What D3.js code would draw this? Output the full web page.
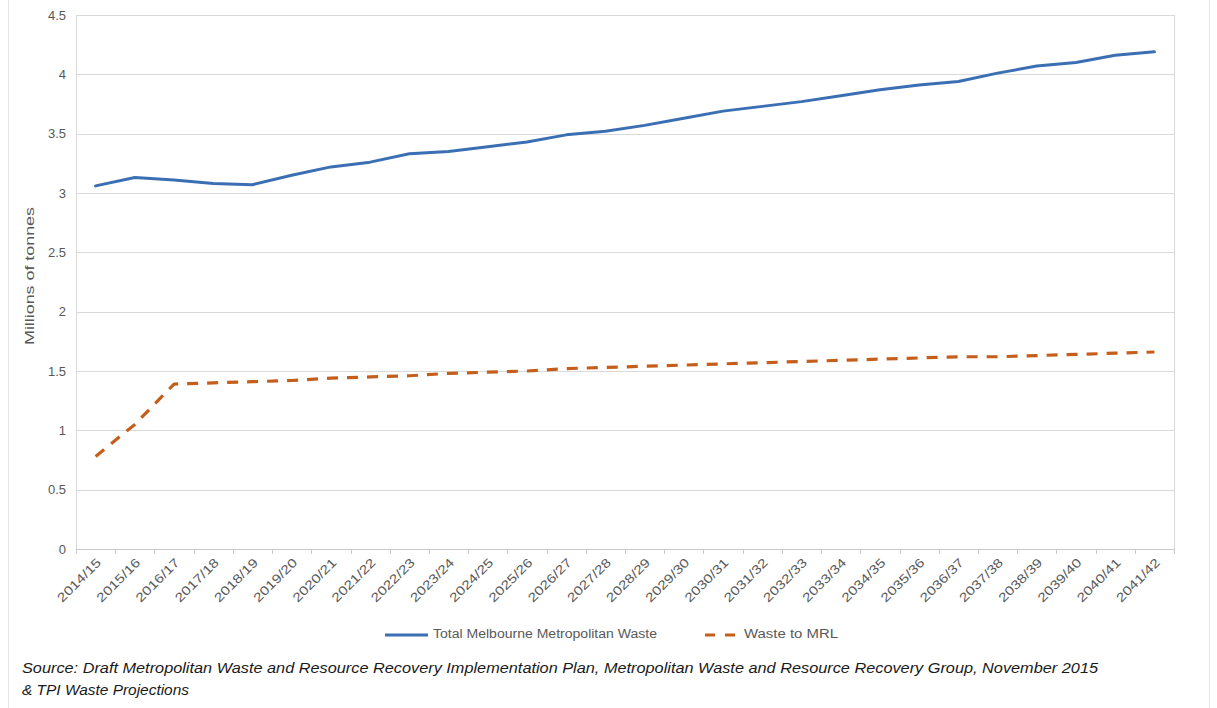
<!DOCTYPE html>
<html>
<head>
<meta charset="utf-8">
<script src="https://cdn.jsdelivr.net/npm/d3@7"></script>
<style>
  html, body { margin: 0; padding: 0; background: #fff; }
  svg { display: block; }
</style>
</head>
<body>
<svg id="chart" width="1217" height="708"></svg>
<script>
// Financial years on the category axis
const years = [
  "2014/15","2015/16","2016/17","2017/18","2018/19","2019/20","2020/21",
  "2021/22","2022/23","2023/24","2024/25","2025/26","2026/27","2027/28",
  "2028/29","2029/30","2030/31","2031/32","2032/33","2033/34","2034/35",
  "2035/36","2036/37","2037/38","2038/39","2039/40","2040/41","2041/42"
];

// Millions of tonnes
const totalWaste = [
  3.06, 3.13, 3.11, 3.08, 3.07, 3.15, 3.22, 3.26, 3.33, 3.35,
  3.39, 3.43, 3.49, 3.52, 3.57, 3.63, 3.69, 3.73, 3.77, 3.82,
  3.87, 3.91, 3.94, 4.01, 4.07, 4.10, 4.16, 4.19
];
const wasteToMRL = [
  0.78, 1.05, 1.39, 1.40, 1.41, 1.42, 1.44, 1.45, 1.46, 1.48,
  1.49, 1.50, 1.52, 1.53, 1.54, 1.55, 1.56, 1.57, 1.58, 1.59,
  1.60, 1.61, 1.62, 1.62, 1.63, 1.64, 1.65, 1.66
];

const yTicks = [0, 0.5, 1, 1.5, 2, 2.5, 3, 3.5, 4, 4.5];
const seriesNames = ["Total Melbourne Metropolitan Waste", "Waste to MRL"];
const yTitle = "Millions of tonnes";
const sourceLines = [
  "Source: Draft Metropolitan Waste and Resource Recovery Implementation Plan, Metropolitan Waste and Resource Recovery Group, November 2015",
  "& TPI Waste Projections"
];

const blue = "#3b6fb3";
const orange = "#c65e1b";
const gridCol = "#d9d9d9";
const textCol = "#595959";
const font = "'Liberation Sans Narrow', 'Liberation Sans', Arial, sans-serif";

const svg = d3.select("#chart");
const plot = { left: 76, right: 1174, top: 15, bottom: 549 };

// outer frame of the figure
svg.append("rect")
  .attr("x", 8.5).attr("y", -2).attr("width", 1201).attr("height", 712)
  .attr("fill", "none").attr("stroke", "#e6e6e6").attr("stroke-width", 1);

const x = d3.scaleBand().domain(years).range([plot.left, plot.right]);
const y = d3.scaleLinear().domain([0, 4.5]).range([plot.bottom, plot.top]);

// horizontal gridlines
svg.append("g")
  .selectAll("line").data(yTicks).join("line")
  .attr("x1", plot.left).attr("x2", plot.right)
  .attr("y1", d => Math.round(y(d)) + 0.5).attr("y2", d => Math.round(y(d)) + 0.5)
  .attr("stroke", gridCol).attr("stroke-width", 1);

// plot area border
svg.append("rect")
  .attr("x", plot.left + 0.5).attr("y", plot.top + 0.5)
  .attr("width", plot.right - plot.left).attr("height", plot.bottom - plot.top)
  .attr("fill", "none").attr("stroke", gridCol);

// y axis labels
const yAxis = d3.axisLeft(y).tickValues(yTicks).tickSize(0).tickPadding(10)
  .tickFormat(d => String(d));
const gy = svg.append("g").attr("transform", `translate(${plot.left},0)`).call(yAxis);
gy.select(".domain").remove();
gy.selectAll("text").attr("fill", textCol).attr("font-size", 13).attr("font-family", font);

// x axis with ticks at category boundaries
const gx = svg.append("g").attr("transform", `translate(0,${plot.bottom})`);
gx.append("line").attr("x1", plot.left).attr("x2", plot.right)
  .attr("y1", 0.5).attr("y2", 0.5).attr("stroke", "#c8c8c8");
gx.selectAll("line.tick").data(years.concat(["end"])).join("line")
  .attr("class", "tick")
  .attr("x1", (d, i) => Math.round(plot.left + i * x.step()) + 0.5)
  .attr("x2", (d, i) => Math.round(plot.left + i * x.step()) + 0.5)
  .attr("y1", 0).attr("y2", 5).attr("stroke", "#c8c8c8");
gx.selectAll("text").data(years).join("text")
  .attr("transform", d => `translate(${x(d) + x.bandwidth() / 2 + 4},${12}) rotate(-45)`)
  .attr("text-anchor", "end")
  .attr("dominant-baseline", "middle")
  .attr("fill", textCol).attr("font-size", 12.5).attr("font-family", font)
  .attr("textLength", 56).attr("lengthAdjust", "spacingAndGlyphs")
  .text(d => d);

// y axis title
svg.append("text")
  .attr("transform", `translate(34,276) rotate(-90)`)
  .attr("text-anchor", "middle")
  .attr("fill", textCol).attr("font-size", 13).attr("font-family", font)
  .attr("textLength", 138).attr("lengthAdjust", "spacingAndGlyphs")
  .text(yTitle);

const cx = d => x(d) + x.bandwidth() / 2;
const line = d3.line().x(d => cx(d.year)).y(d => y(d.v));

svg.append("path")
  .datum(years.map((yr, i) => ({ year: yr, v: totalWaste[i] })))
  .attr("d", line)
  .attr("fill", "none").attr("stroke", blue).attr("stroke-width", 3)
  .attr("stroke-linejoin", "round").attr("stroke-linecap", "round");

svg.append("path")
  .datum(years.map((yr, i) => ({ year: yr, v: wasteToMRL[i] })))
  .attr("d", line)
  .attr("fill", "none").attr("stroke", orange).attr("stroke-width", 3.2)
  .attr("stroke-dasharray", "11,9")
  .attr("stroke-linejoin", "round");

// legend
const legend = svg.append("g").attr("transform", "translate(0,635)");
legend.append("line").attr("x1", 385).attr("x2", 428).attr("y1", 0).attr("y2", 0)
  .attr("stroke", blue).attr("stroke-width", 3);
legend.append("text").attr("x", 433).attr("y", 0).attr("dominant-baseline", "middle")
  .attr("fill", textCol).attr("font-size", 12).attr("font-family", font)
  .attr("textLength", 224).attr("lengthAdjust", "spacingAndGlyphs")
  .text(seriesNames[0]);
legend.append("line").attr("x1", 705).attr("x2", 737).attr("y1", 0).attr("y2", 0)
  .attr("stroke", orange).attr("stroke-width", 3).attr("stroke-dasharray", "10,10");
legend.append("text").attr("x", 744).attr("y", 0).attr("dominant-baseline", "middle")
  .attr("fill", textCol).attr("font-size", 12).attr("font-family", font)
  .attr("textLength", 94).attr("lengthAdjust", "spacingAndGlyphs")
  .text(seriesNames[1]);

// source note
svg.append("g").selectAll("text").data(sourceLines).join("text")
  .attr("x", 22).attr("y", (d, i) => 673 + i * 22)
  .attr("fill", "#1a1a1a").attr("font-size", 15).attr("font-style", "italic")
  .attr("font-family", font)
  .attr("textLength", (d, i) => i === 0 ? 1076 : 167)
  .attr("lengthAdjust", "spacingAndGlyphs")
  .text(d => d);
</script>
</body>
</html>
